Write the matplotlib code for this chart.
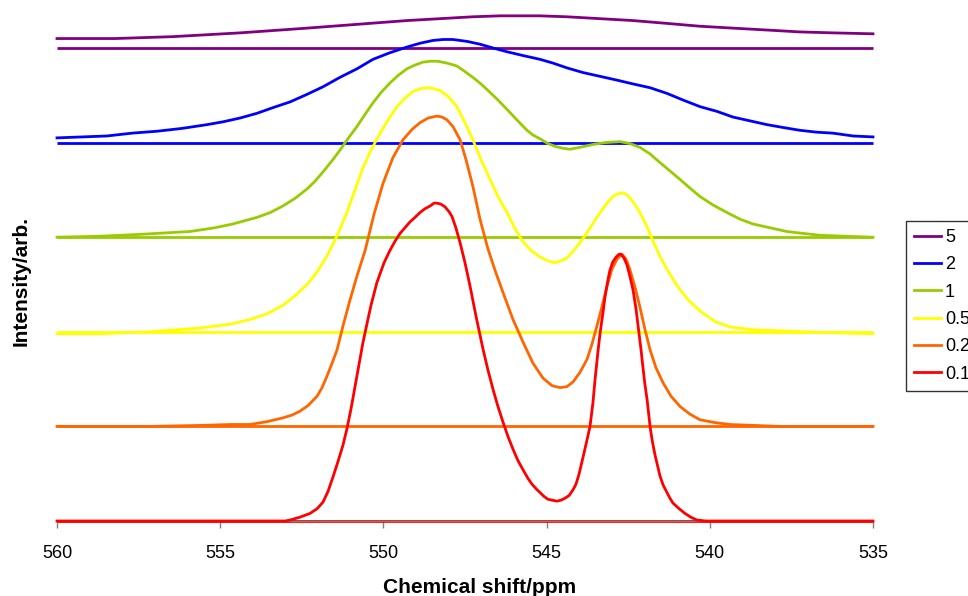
import matplotlib
matplotlib.use("Agg")
import matplotlib.pyplot as plt

plt.rcParams['font.family'] = ['Liberation Sans', 'DejaVu Sans']

labels = ["5", "2", "1", "0.5", "0.2", "0.1"]
colors = ["#800080", "#0000FF", "#99CC00", "#FFFF00", "#FF6600", "#FF0000"]
offsets = [5, 4, 3, 2, 1, 0]

ppm_5 = [560, 558.22, 556.45, 554.39, 552.34, 550.81, 549.28, 548.27, 547.26, 546.43, 545.20, 544.38,
         543.36, 542.35, 541.31, 540.30, 539.29, 538.25, 537.24, 536.23, 535]
int_5 = [0.10, 0.10, 0.12, 0.16, 0.21, 0.25, 0.29, 0.31, 0.33, 0.34, 0.34, 0.33,
         0.31, 0.29, 0.26, 0.23, 0.21, 0.19, 0.17, 0.16, 0.15]

ppm_2 = [560, 559.23, 558.47, 557.70, 556.94, 556.17, 555.40, 554.91, 554.39, 553.87, 553.38, 552.86,
         552.34, 551.85, 551.33, 550.81, 550.32, 549.80, 549.28, 548.88, 548.48, 548.17, 547.87, 547.44,
         547.04, 546.64, 546.21, 545.72, 545.20, 544.80, 544.38, 543.88, 543.36, 542.84, 542.35, 541.83,
         541.31, 540.82, 540.30, 539.78, 539.29, 538.77, 538.25, 537.76, 537.24, 536.72, 536.23, 535.61, 535]
int_2 = [0.05, 0.06, 0.07, 0.10, 0.12, 0.15, 0.19, 0.22, 0.26, 0.31, 0.37, 0.43,
         0.51, 0.59, 0.69, 0.78, 0.88, 0.95, 1.01, 1.05, 1.08, 1.09, 1.09, 1.07,
         1.04, 1.00, 0.96, 0.92, 0.88, 0.84, 0.79, 0.74, 0.70, 0.66, 0.62, 0.58,
         0.52, 0.45, 0.38, 0.33, 0.27, 0.23, 0.19, 0.16, 0.13, 0.11, 0.10, 0.07, 0.06]

ppm_1 = [560, 558.68, 557.46, 555.93, 555.16, 554.61, 553.87, 553.47, 553.08, 552.71, 552.34, 552.10,
         551.85, 551.57, 551.33, 551.09, 550.81, 550.56, 550.32, 550.07, 549.80, 549.55, 549.28, 549.03,
         548.79, 548.57, 548.33, 548.05, 547.75, 547.50, 547.26, 547.01, 546.73, 546.49, 546.21, 545.91,
         545.60, 545.42, 545.20, 544.96, 544.74, 544.50, 544.28, 543.98, 543.58, 543.21, 542.75, 542.45,
         542.14, 541.83, 541.53, 541.22, 540.91, 540.61, 540.30, 539.90, 539.47, 539.07, 538.68, 538.16,
         537.64, 537.14, 536.62, 535.86, 535]
int_1 = [0.00, 0.01, 0.03, 0.06, 0.10, 0.14, 0.21, 0.26, 0.33, 0.41, 0.51, 0.59,
         0.69, 0.81, 0.92, 1.04, 1.17, 1.30, 1.42, 1.53, 1.63, 1.71, 1.78, 1.82,
         1.85, 1.86, 1.86, 1.84, 1.81, 1.75, 1.69, 1.62, 1.53, 1.45, 1.35, 1.24,
         1.13, 1.08, 1.04, 0.99, 0.96, 0.94, 0.93, 0.95, 0.98, 1.00, 1.01, 0.99,
         0.95, 0.88, 0.79, 0.70, 0.61, 0.52, 0.43, 0.34, 0.26, 0.19, 0.14, 0.10,
         0.06, 0.04, 0.02, 0.01, 0.00]

ppm_05 = [560, 558.68, 557.15, 555.62, 554.70, 554.09, 553.57, 553.08, 552.71, 552.34, 552.10, 551.85,
          551.67, 551.48, 551.30, 551.12, 550.87, 550.63, 550.38, 550.10, 549.86, 549.58, 549.34, 549.09,
          548.88, 548.63, 548.45, 548.27, 548.02, 547.75, 547.50, 547.26, 547.01, 546.73, 546.49, 546.21,
          545.97, 545.72, 545.48, 545.20, 544.96, 544.74, 544.56, 544.38, 544.19, 543.98, 543.76, 543.46,
          543.15, 542.97, 542.81, 542.66, 542.51, 542.32, 542.14, 541.92, 541.74, 541.53, 541.31, 541.01,
          540.67, 540.30, 539.84, 539.38, 538.62, 537.85, 536.32, 535]
int_05 = [-0.02, -0.02, 0.00, 0.04, 0.08, 0.13, 0.19, 0.28, 0.38, 0.50, 0.60, 0.73,
          0.84, 0.97, 1.11, 1.26, 1.50, 1.73, 1.92, 2.10, 2.24, 2.38, 2.47, 2.54,
          2.57, 2.58, 2.57, 2.55, 2.49, 2.38, 2.21, 2.03, 1.82, 1.61, 1.43, 1.26,
          1.09, 0.95, 0.86, 0.79, 0.75, 0.73, 0.75, 0.78, 0.85, 0.94, 1.05, 1.21,
          1.36, 1.43, 1.46, 1.47, 1.44, 1.36, 1.26, 1.11, 0.96, 0.80, 0.66, 0.49,
          0.34, 0.22, 0.11, 0.05, 0.02, 0.01, -0.01, -0.02]

ppm_02 = [560, 557.15, 555.62, 554.70, 554.09, 553.57, 553.08, 552.80, 552.56, 552.31, 552.03, 551.88,
          551.73, 551.57, 551.42, 551.24, 551.02, 550.81, 550.56, 550.29, 550.01, 549.71, 549.40, 549.12,
          548.88, 548.63, 548.36, 548.20, 548.05, 547.87, 547.65, 547.47, 547.26, 547.04, 546.80, 546.58,
          546.34, 546.03, 545.72, 545.42, 545.11, 544.83, 544.59, 544.38, 544.19, 543.98, 543.76, 543.61,
          543.46, 543.30, 543.15, 543.00, 542.84, 542.69, 542.57, 542.45, 542.29, 542.14, 541.99, 541.83,
          541.65, 541.43, 541.19, 540.91, 540.61, 540.30, 539.84, 539.38, 538.62, 537.85, 535]
int_02 = [0.00, 0.00, 0.01, 0.02, 0.02, 0.05, 0.09, 0.12, 0.16, 0.22, 0.32, 0.41,
          0.53, 0.67, 0.81, 1.06, 1.34, 1.59, 1.86, 2.24, 2.57, 2.84, 3.03, 3.14,
          3.21, 3.26, 3.28, 3.27, 3.24, 3.17, 3.03, 2.82, 2.54, 2.19, 1.88, 1.65,
          1.42, 1.13, 0.89, 0.67, 0.51, 0.43, 0.41, 0.42, 0.47, 0.57, 0.71, 0.87,
          1.06, 1.27, 1.48, 1.66, 1.77, 1.82, 1.77, 1.66, 1.47, 1.26, 1.03, 0.81,
          0.62, 0.46, 0.32, 0.21, 0.13, 0.07, 0.04, 0.02, 0.01, 0.00, 0.00]

ppm_01 = [560, 554.09, 553.01, 552.86, 552.56, 552.25, 552.03, 551.85, 551.70, 551.54, 551.39, 551.24,
          551.12, 550.99, 550.87, 550.75, 550.63, 550.50, 550.38, 550.20, 549.98, 549.80, 549.64, 549.49,
          549.34, 549.19, 549.03, 548.88, 548.73, 548.57, 548.45, 548.36, 548.24, 548.11, 547.99, 547.90,
          547.78, 547.65, 547.50, 547.35, 547.16, 546.95, 546.80, 546.64, 546.49, 546.34, 546.18, 546.03,
          545.88, 545.72, 545.57, 545.45, 545.32, 545.20, 545.08, 544.96, 544.83, 544.68, 544.56, 544.44,
          544.31, 544.19, 544.10, 544.01, 543.88, 543.76, 543.67, 543.58, 543.52, 543.43, 543.36, 543.27,
          543.21, 543.12, 543.06, 542.97, 542.87, 542.78, 542.72, 542.63, 542.54, 542.45, 542.35, 542.26,
          542.20, 542.11, 542.05, 541.99, 541.92, 541.83, 541.77, 541.68, 541.59, 541.53, 541.43, 541.31,
          541.22, 541.13, 540.94, 540.76, 540.58, 540.39, 540.12, 535]
int_01 = [0.00, 0.00, 0.00, 0.01, 0.04, 0.08, 0.13, 0.20, 0.31, 0.47, 0.63, 0.80,
          0.97, 1.19, 1.42, 1.65, 1.88, 2.09, 2.28, 2.52, 2.73, 2.86, 2.96, 3.04,
          3.10, 3.16, 3.21, 3.26, 3.30, 3.33, 3.36, 3.36, 3.35, 3.32, 3.27, 3.22,
          3.10, 2.94, 2.73, 2.49, 2.16, 1.82, 1.60, 1.39, 1.21, 1.05, 0.89, 0.76,
          0.64, 0.54, 0.45, 0.39, 0.34, 0.30, 0.26, 0.23, 0.22, 0.21, 0.22, 0.24,
          0.27, 0.33, 0.39, 0.49, 0.68, 0.86, 1.00, 1.25, 1.48, 1.78, 1.99, 2.21,
          2.37, 2.55, 2.65, 2.74, 2.79, 2.82, 2.82, 2.78, 2.71, 2.59, 2.44, 2.24,
          2.07, 1.82, 1.63, 1.45, 1.28, 1.00, 0.86, 0.70, 0.57, 0.48, 0.38, 0.30,
          0.24, 0.19, 0.13, 0.08, 0.04, 0.01, 0.00, 0.00]

ppm_series = [ppm_5, ppm_2, ppm_1, ppm_05, ppm_02, ppm_01]
int_series = [int_5, int_2, int_1, int_05, int_02, int_01]

x_ticks = [560, 555, 550, 545, 540, 535]
x_range = [560, 535]

fig = plt.figure(figsize=(9.68, 5.96), dpi=100)
W, H = 968, 596
ax = fig.add_axes([57 / W, 75 / H, 816 / W, 520.3 / H])

handles = []
for lab, col, off, xs, ys in zip(labels, colors, offsets, ppm_series, int_series):
    ax.hlines(off, x_range[0], x_range[1], colors=col, lw=2.0, clip_on=False, zorder=2)
    ln, = ax.plot(xs, [v + off for v in ys], color=col, lw=2.0, clip_on=False,
                  solid_joinstyle='round', zorder=3, label=lab)
    handles.append(ln)

ax.set_xlim(x_range[0], x_range[1])
ax.set_ylim(0, 5.5)
ax.set_xticks(x_ticks)
ax.set_xticklabels([str(t) for t in x_ticks])
ax.tick_params(axis='x', direction='out', length=5, width=1, color='#808080',
               labelsize=13, pad=12)
ax.set_yticks([])
for s in ['left', 'right', 'top']:
    ax.spines[s].set_visible(False)
ax.spines['bottom'].set_color('#808080')
ax.patch.set_alpha(0)

fig.text(480 / W, 1 - 593 / H, "Chemical shift/ppm", ha='center', va='baseline',
         fontsize=15, fontweight='bold')
fig.text(21 / W, 1 - 281.5 / H, "Intensity/arb.", ha='center', va='center',
         rotation=90, fontsize=15, fontweight='bold')

leg = fig.legend(handles=handles, labels=labels, loc='upper left',
                 bbox_to_anchor=(906 / W, 1 - 221 / H), frameon=True, fancybox=False,
                 fontsize=13, handlelength=1.5, handletextpad=0.2, labelspacing=0.57,
                 borderpad=0.45, borderaxespad=0)
leg.get_frame().set_edgecolor('#000000')
leg.get_frame().set_linewidth(1.0)

fig.savefig("out.png", dpi=100)
